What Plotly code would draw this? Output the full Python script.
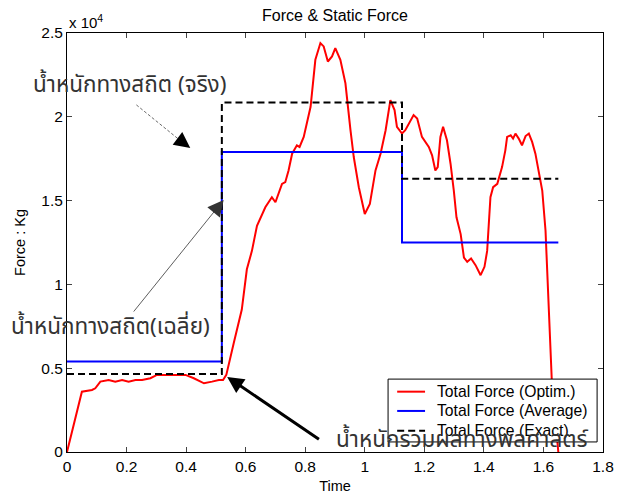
import plotly.graph_objects as go

# ---- data ----
time_optim = [0.0, 0.05, 0.084, 0.095, 0.112, 0.14, 0.162, 0.185, 0.207, 0.23, 0.252, 0.28,
              0.302, 0.336, 0.364, 0.398, 0.426, 0.46, 0.487, 0.51, 0.524, 0.535, 0.56, 0.587,
              0.604, 0.621, 0.638, 0.666, 0.688, 0.70, 0.722, 0.733, 0.744, 0.756, 0.772, 0.781,
              0.795, 0.818, 0.834, 0.851, 0.862, 0.876, 0.89, 0.901, 0.918, 0.935, 0.952, 0.963,
              0.98, 1.0, 1.017, 1.036, 1.053, 1.07, 1.086, 1.10, 1.108, 1.125, 1.136, 1.164,
              1.176, 1.192, 1.215, 1.226, 1.237, 1.245, 1.254, 1.263, 1.276, 1.288, 1.299, 1.308,
              1.322, 1.333, 1.344, 1.357, 1.372, 1.389, 1.402, 1.411, 1.422, 1.431, 1.445, 1.461,
              1.472, 1.478, 1.49, 1.498, 1.506, 1.517, 1.528, 1.54, 1.551, 1.562, 1.573, 1.584,
              1.596, 1.607, 1.615, 1.628, 1.65]
force_optim = [0.0, 0.36, 0.37, 0.38, 0.42, 0.43, 0.42, 0.43, 0.42, 0.43, 0.43, 0.44,
               0.46, 0.46, 0.46, 0.46, 0.44, 0.41, 0.42, 0.43, 0.43, 0.46, 0.65, 0.85,
               1.09, 1.20, 1.35, 1.46, 1.52, 1.49, 1.60, 1.61, 1.68, 1.78, 1.83, 1.82,
               1.88, 2.06, 2.34, 2.44, 2.42, 2.33, 2.36, 2.41, 2.34, 2.20, 1.92, 1.76,
               1.58, 1.42, 1.48, 1.68, 1.78, 1.92, 2.10, 2.04, 1.94, 1.90, 1.92, 2.01,
               1.99, 1.88, 1.82, 1.77, 1.68, 1.70, 1.88, 1.94, 1.86, 1.72, 1.56, 1.40,
               1.30, 1.16, 1.135, 1.155, 1.115, 1.055, 1.105, 1.20, 1.52, 1.58, 1.60, 1.70,
               1.80, 1.88, 1.89, 1.87, 1.90, 1.87, 1.83, 1.885, 1.90, 1.85, 1.78, 1.68,
               1.56, 1.32, 0.97, 0.43, 0.0]

time_steps = [0.0, 0.52, 0.52, 1.125, 1.125, 1.65]
force_average = [0.54, 0.54, 1.79, 1.79, 1.25, 1.25]
force_exact = [0.465, 0.465, 2.085, 2.085, 1.63, 1.63]

series_names = ["Total Force (Optim.)", "Total Force (Average)", "Total Force (Exact)"]
series_colors = ["#ff0000", "#0000ff", "black"]
series_dash = ["solid", "solid", "7px,4px"]

scale = 1e4
x_ticks = [0, 0.2, 0.4, 0.6, 0.8, 1, 1.2, 1.4, 1.6, 1.8]
x_ticktext = ["0", "0.2", "0.4", "0.6", "0.8", "1", "1.2", "1.4", "1.6", "1.8"]
y_ticks = [0, 0.5, 1, 1.5, 2, 2.5]
y_ticktext = ["0", "0.5", "1", "1.5", "2", "2.5"]

FONT = "Liberation Sans, Arial, sans-serif"
THAI = "Noto Sans Thai, Tahoma, Loma, Garuda, sans-serif"

fig = go.Figure()
series_y = [force_optim, force_average, force_exact]
series_x = [time_optim, time_steps, time_steps]
for xs, ys, name, col, dash in zip(series_x, series_y, series_names, series_colors, series_dash):
    fig.add_trace(go.Scatter(x=xs, y=[v * scale for v in ys], mode="lines",
                             line=dict(color=col, width=2, dash=dash), name=name,
                             showlegend=False))

# dashed thin arrow line (annotation 1)
fig.add_shape(type="line", x0=0.233, y0=2.071 * scale, x1=0.40, y1=1.83 * scale,
              line=dict(color="#444", width=0.8, dash="3px,2px"))

# legend box (MATLAB style: compact rows)
leg_x0, leg_x1, leg_y0, leg_y1 = 0.599, 0.989, 0.024, 0.174
row_y = [0.144, 0.098, 0.051]
fig.add_shape(type="rect", xref="paper", yref="paper", x0=leg_x0, x1=leg_x1, y0=leg_y0, y1=leg_y1,
              line=dict(color="black", width=1), fillcolor="white", layer="above")
for ry, col, dash in zip(row_y, series_colors, series_dash):
    fig.add_shape(type="line", xref="paper", yref="paper", x0=0.616, x1=0.668, y0=ry, y1=ry,
                  line=dict(color=col, width=2, dash=dash), layer="above")

annotations = [
    dict(x=0.414, y=1.814 * scale, xref="x", yref="y", ax=-8, ay=-6, text="",
         showarrow=True, arrowhead=2, arrowsize=4, arrowwidth=0.8, arrowcolor="black"),
    dict(x=0.526, y=1.504 * scale, xref="x", yref="y", ax=0.22, ay=0.829 * scale,
         axref="x", ayref="y", text="", showarrow=True, arrowhead=2, arrowsize=4,
         arrowwidth=0.8, arrowcolor="#333"),
    dict(x=0.538, y=0.448 * scale, xref="x", yref="y", ax=0.851, ay=0.07 * scale,
         axref="x", ayref="y", text="", showarrow=True, arrowhead=2, arrowsize=1.1,
         arrowwidth=3, arrowcolor="black"),
]
for ry, name in zip(row_y, series_names):
    annotations.append(dict(x=0.686, y=ry, xref="paper", yref="paper", xanchor="left",
                            yanchor="middle", text=name, showarrow=False,
                            font=dict(family=FONT, size=15.7, color="black")))
annotations += [
    dict(x=0.1175, y=0.876, xref="paper", yref="paper", xanchor="center", yanchor="middle",
         text="น้ำหนักทางสถิต (จริง)",
         showarrow=False, font=dict(family=THAI, size=22.5, color="#333")),
    dict(x=0.082, y=0.298, xref="paper", yref="paper", xanchor="center", yanchor="middle",
         text="น้ำหนักทางสถิต(เฉลี่ย)",
         showarrow=False, font=dict(family=THAI, size=22.5, color="#333")),
    dict(x=0.737, y=0.029, xref="paper", yref="paper", xanchor="center", yanchor="middle",
         text="น้ำหนักรวมผลทางพลศาสตร์",
         showarrow=False, font=dict(family=THAI, size=22.5, color="#333")),
    dict(x=0.0, y=1.0, xref="paper", yref="paper", xanchor="left", yanchor="bottom",
         text="x 10<sup>4</sup>", showarrow=False, font=dict(family=FONT, size=15, color="black")),
]

fig.update_layout(
    width=617, height=494,
    margin=dict(l=67, r=14, t=33, b=42, autoexpand=False),
    paper_bgcolor="white", plot_bgcolor="white",
    font=dict(family=FONT, size=15.5, color="black"),
    title=dict(text="Force & Static Force", x=0.5, xref="paper", xanchor="center",
               y=0.968, yanchor="middle",
               font=dict(family=FONT, size=16, color="black")),
    annotations=annotations,
    showlegend=False,
)
fig.update_xaxes(range=[0, 1.8], tickvals=x_ticks, ticktext=x_ticktext, ticks="inside",
                 ticklen=5, showline=True, linecolor="black", linewidth=1, mirror="ticks",
                 showgrid=False, zeroline=False, automargin=False,
                 title=dict(text="Time", standoff=9, font=dict(size=14.5)))
fig.update_yaxes(range=[0, 2.5 * scale], tickvals=[v * scale for v in y_ticks], ticktext=y_ticktext,
                 ticks="inside", ticklen=5, showline=True, linecolor="black", linewidth=1,
                 mirror="ticks", showgrid=False, zeroline=False, automargin=False,
                 title=dict(text="Force : Kg", standoff=12, font=dict(size=14.5)))

fig.write_html("out.html", config={"displayModeBar": False},
               post_script="document.body.style.margin='0';")
